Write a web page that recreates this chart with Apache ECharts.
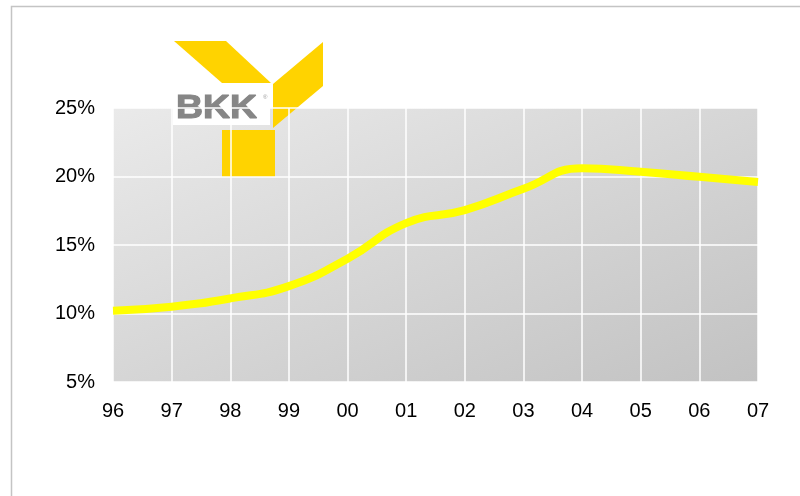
<!DOCTYPE html>
<html>
<head>
<meta charset="utf-8">
<script src="https://cdn.jsdelivr.net/npm/echarts@6/dist/echarts.min.js"></script>
<style>
  html, body { margin: 0; padding: 0; background: #fff; }
  #main { width: 800px; height: 496px; }
</style>
</head>
<body>
<div id="main"></div>
<script>
// Jahre (x-Achse) und Anteil in %
var years = ['96', '97', '98', '99', '00', '01', '02', '03', '04', '05', '06', '07'];
var share = [10.2, 10.5, 11.1, 12.0, 14.0, 16.6, 17.55, 19.1, 20.6, 20.35, 19.98, 19.6];

var yMin = 5, yMax = 25, yStep = 5;

var myChart = echarts.init(document.getElementById('main'));

var logoYellow = '#ffd300';

option = {
    backgroundColor: '#fff',
    animation: false,
    grid: {
        left: 113,
        right: 42,
        top: 108,
        bottom: 114,
        show: true,
        borderWidth: 0,
        // diagonal verlauf, hell oben links -> dunkel unten rechts
        backgroundColor: new echarts.graphic.LinearGradient(113, 108, 310, 572, [
            { offset: 0, color: '#eaeaea' },
            { offset: 1, color: '#c2c2c2' }
        ], true)
    },
    xAxis: {
        type: 'category',
        data: years,
        boundaryGap: false,
        axisLine: { show: false },
        axisTick: { show: false },
        axisLabel: {
            margin: 19,
            color: '#000',
            fontSize: 20,
            fontFamily: 'Liberation Sans, Arial, sans-serif'
        },
        splitLine: {
            show: true,
            lineStyle: { color: '#fff', width: 1.5 }
        }
    },
    yAxis: {
        type: 'value',
        min: yMin,
        max: yMax,
        interval: yStep,
        axisLine: { show: false },
        axisTick: { show: false },
        axisLabel: {
            margin: 18,
            color: '#000',
            fontSize: 20,
            fontFamily: 'Liberation Sans, Arial, sans-serif',
            formatter: '{value}%'
        },
        splitLine: {
            lineStyle: { color: '#fff', width: 1.5 }
        }
    },
    series: [{
        type: 'line',
        data: share,
        smooth: 0.5,
        symbol: 'none',
        lineStyle: { color: '#ffff00', width: 8 },
        z: 5
    }],
    graphic: [
        // Rahmen
        {
            type: 'polyline',
            silent: true,
            shape: { points: [[11.5, 500], [11.5, 6.5], [800, 6.5]] },
            style: { stroke: '#c4c4c4', lineWidth: 1.5, fill: null }
        },
        // Logo
        {
            type: 'group',
            z: 100,
            children: [
                {
                    type: 'polygon',
                    shape: { points: [[174, 41], [226, 41], [271, 83], [222, 83]] },
                    style: { fill: logoYellow }
                },
                {
                    type: 'polygon',
                    shape: { points: [[273, 84], [323, 42], [323, 86], [273, 128]] },
                    style: { fill: logoYellow }
                },
                {
                    type: 'rect',
                    shape: { x: 222, y: 130, width: 53, height: 47 },
                    style: { fill: logoYellow }
                },
                {
                    type: 'rect',
                    shape: { x: 173, y: 91, width: 97, height: 34 },
                    style: { fill: '#fff' }
                },
                {
                    type: 'text',
                    x: 176,
                    y: 92,
                    scaleX: 1.1,
                    style: {
                        text: 'BKK',
                        fill: '#868686',
                        stroke: '#868686',
                        lineWidth: 1.2,
                        font: 'bold 34px "Liberation Sans", Arial, sans-serif'
                    }
                },
                {
                    type: 'text',
                    x: 263,
                    y: 94,
                    style: {
                        text: '®',
                        fill: '#9a9a9a',
                        font: '6px "Liberation Sans", Arial, sans-serif'
                    }
                }
            ]
        }
    ]
};

myChart.setOption(option);
window.addEventListener('resize', function () {
    myChart.resize();
});
</script>
</body>
</html>
